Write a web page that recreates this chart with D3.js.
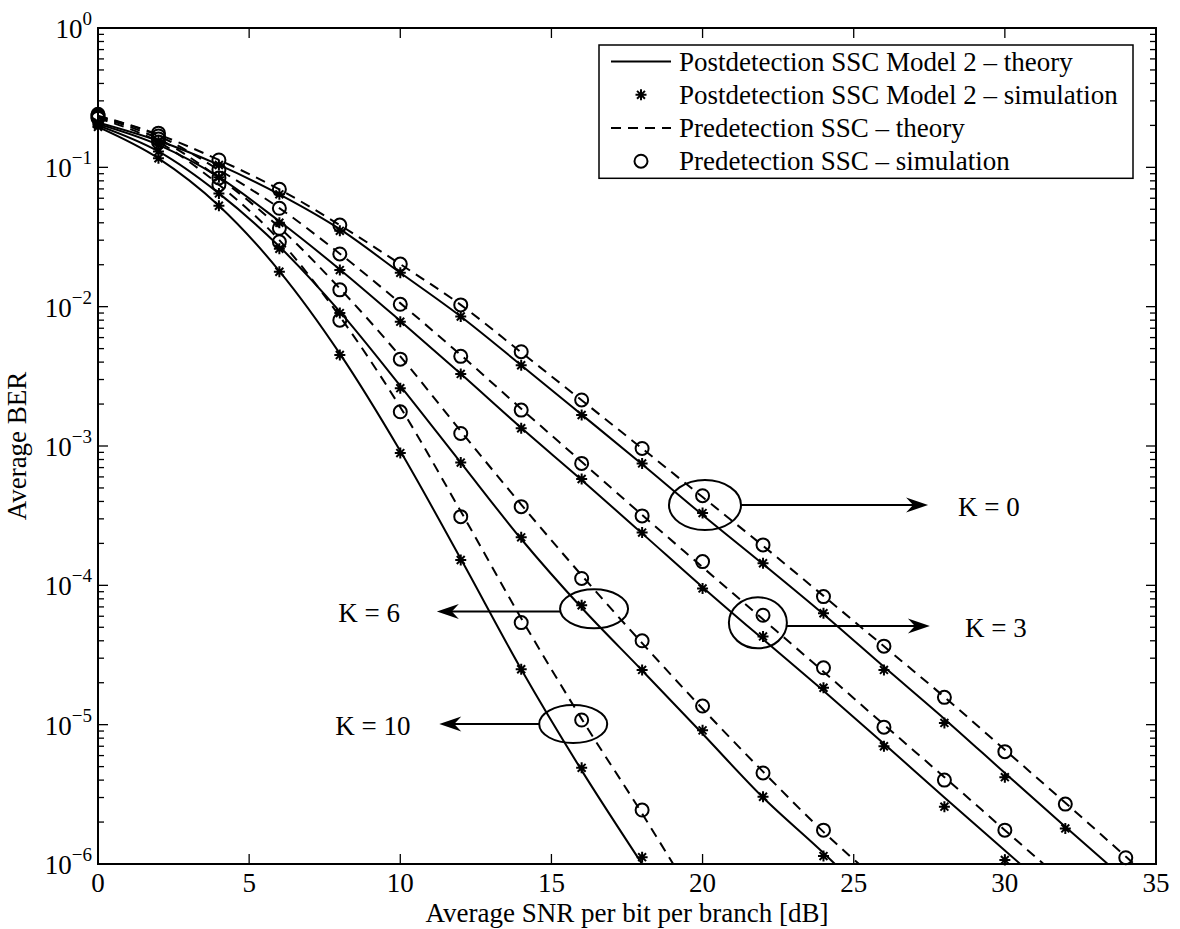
<!DOCTYPE html>
<html>
<head>
<meta charset="utf-8">
<script src="https://cdn.jsdelivr.net/npm/d3@7"></script>
<style>
  body { margin: 0; background: #fff; }
  text { font-family: "Liberation Serif", "Times New Roman", serif; fill: #000; }
</style>
</head>
<body>
<div id="chart"></div>
<script>
// SNR grid of the simulation points and of the theory curves
const snr = [0, 2, 4, 6, 8, 10, 12, 14, 16, 18, 20, 22, 24, 26, 28, 30, 32, 34];
const snrTheory = [0, 2, 4, 6, 8, 10, 12, 14, 16, 18, 20, 22, 24, 26, 28, 30, 32, 34, 36];

// K = 0
const postTheoryK0 = [0.21, 0.155, 0.104, 0.064, 0.036, 0.0175, 0.0085, 0.0038, 0.00168, 0.00074, 0.00032, 0.000142, 6.2e-5, 2.6e-5, 1.1e-5, 4.5e-6, 1.85e-6, 7.7e-7];
const postSimK0 = [0.21, 0.155, 0.104, 0.064, 0.035, 0.0175, 0.0085, 0.0038, 0.00167, 0.00075, 0.00033, 0.000144, 6.3e-5, 2.47e-5, 1.03e-5, 4.2e-6, 1.8e-6];
const preTheoryK0 = [0.235, 0.172, 0.113, 0.0695, 0.0385, 0.0202, 0.0103, 0.0047, 0.00213, 0.00096, 0.00043, 0.000192, 8.4e-5, 3.65e-5, 1.58e-5, 6.6e-6, 2.75e-6, 1.13e-6, 4.6e-7];
const preSimK0 = [0.24, 0.176, 0.113, 0.0695, 0.0385, 0.0202, 0.0103, 0.00475, 0.00214, 0.00096, 0.00044, 0.000195, 8.3e-5, 3.66e-5, 1.57e-5, 6.4e-6, 2.69e-6, 1.11e-6];

// K = 3
const postTheoryK3 = [0.205, 0.145, 0.085, 0.041, 0.0185, 0.0079, 0.0033, 0.00135, 0.00057, 0.000236, 9.7e-5, 4.1e-5, 1.75e-5, 7.3e-6, 3.0e-6, 1.25e-6, 5.2e-7];
const postSimK3 = [0.205, 0.145, 0.085, 0.040, 0.0183, 0.0078, 0.00329, 0.00134, 0.00058, 0.000239, 9.5e-5, 4.3e-5, 1.84e-5, 7.0e-6, 2.58e-6, 1.07e-6];
const preTheoryK3 = [0.232, 0.168, 0.096, 0.051, 0.024, 0.0106, 0.0045, 0.00185, 0.00077, 0.00032, 0.000135, 5.7e-5, 2.4e-5, 1.0e-5, 4.2e-6, 1.75e-6, 7.3e-7];
const preSimK3 = [0.235, 0.168, 0.096, 0.0508, 0.0239, 0.0104, 0.0044, 0.00181, 0.00075, 0.000315, 0.000148, 6.1e-5, 2.56e-5, 9.6e-6, 4.0e-6, 1.75e-6];

// K = 6
const postTheoryK6 = [0.2, 0.13, 0.065, 0.027, 0.0092, 0.0027, 0.00076, 0.000215, 6.9e-5, 2.45e-5, 8.6e-6, 3.0e-6, 1.2e-6, 4.5e-7];
const postSimK6 = [0.2, 0.13, 0.065, 0.026, 0.0090, 0.0026, 0.00076, 0.000221, 7.2e-5, 2.47e-5, 9.1e-6, 3.04e-6, 1.14e-6];
const preTheoryK6 = [0.23, 0.16, 0.084, 0.037, 0.0135, 0.0044, 0.00128, 0.00038, 0.000118, 3.85e-5, 1.3e-5, 4.6e-6, 1.7e-6, 7e-7];
const preSimK6 = [0.23, 0.16, 0.084, 0.0365, 0.0132, 0.0042, 0.00123, 0.000367, 0.000112, 4.0e-5, 1.36e-5, 4.5e-6, 1.75e-6];

// K = 10
const postTheoryK10 = [0.195, 0.116, 0.053, 0.018, 0.0046, 0.00092, 0.000155, 2.5e-5, 4.7e-6, 1.0e-6, 2.2e-7];
const postSimK10 = [0.195, 0.116, 0.053, 0.0178, 0.0045, 0.00089, 0.000152, 2.5e-5, 4.9e-6, 1.12e-6];
const preTheoryK10 = [0.225, 0.152, 0.075, 0.030, 0.0085, 0.0019, 0.00034, 5.8e-5, 1.1e-5, 2.3e-6, 4.5e-7];
const preSimK10 = [0.225, 0.152, 0.075, 0.0292, 0.0080, 0.00176, 0.000311, 5.4e-5, 1.08e-5, 2.44e-6];

const xTicks = [0, 5, 10, 15, 20, 25, 30, 35];
const yTickExps = [0, -1, -2, -3, -4, -5, -6];

const legendLabels = [
  "Postdetection SSC Model 2 \u2013 theory",
  "Postdetection SSC Model 2 \u2013 simulation",
  "Predetection SSC \u2013 theory",
  "Predetection SSC \u2013 simulation"
];

// ellipse / arrow / label annotations, positions in data units
const kLabels = ["K = 0", "K = 3", "K = 6", "K = 10"];
const ringSnr = [20.08, 21.83, 16.41, 15.72];
const ringBer = [3.77e-4, 5.38e-5, 6.78e-5, 1.01e-5];
const arrowBer = [3.77e-4, 5.1e-5, 6.5e-5, 1.01e-5];
const arrowEndSnr = [27.46, 27.52, 11.21, 11.29];
const labelSnr = [28.45, 28.68, 9.99, 10.34];

const width = 1180, height = 929;
const margin = { top: 28, left: 98, right: 24, bottom: 65 };
const fs = 27;

const svg = d3.select("#chart").append("svg")
  .attr("width", width)
  .attr("height", height);

const x = d3.scaleLinear().domain([0, 35]).range([margin.left, width - margin.right]);
const y = d3.scaleLog().domain([1e-6, 1]).range([height - margin.bottom, margin.top]);

const x0 = x.range()[0], x1 = x.range()[1];
const y0 = y.range()[0], y1 = y.range()[1];

svg.append("rect").attr("width", width).attr("height", height).attr("fill", "#fff");

svg.append("clipPath").attr("id", "plotclip")
  .append("rect")
  .attr("x", x0).attr("y", y1)
  .attr("width", x1 - x0).attr("height", y0 - y1);

// ticks (inside, on all four sides)
const ticks = svg.append("g").attr("stroke", "#000").attr("stroke-width", 1.3);
xTicks.forEach(t => {
  if (t === 0 || t === 35) return;
  ticks.append("line").attr("x1", x(t)).attr("x2", x(t)).attr("y1", y0).attr("y2", y0 - 10);
  ticks.append("line").attr("x1", x(t)).attr("x2", x(t)).attr("y1", y1).attr("y2", y1 + 10);
});
for (let e = -6; e < 0; e++) {
  for (let m = 1; m < 10; m++) {
    const v = m * Math.pow(10, e);
    const len = m === 1 ? 10 : 6;
    if (m === 1 && e === -6) continue;
    ticks.append("line").attr("x1", x0).attr("x2", x0 + len).attr("y1", y(v)).attr("y2", y(v));
    ticks.append("line").attr("x1", x1).attr("x2", x1 - len).attr("y1", y(v)).attr("y2", y(v));
  }
}

// x tick labels
svg.append("g").selectAll("text").data(xTicks).join("text")
  .attr("x", d => x(d))
  .attr("y", y0 + 28)
  .attr("text-anchor", "middle")
  .style("font-size", fs + "px")
  .text(d => d);

// y tick labels 10^n
const yl = svg.append("g").selectAll("text").data(yTickExps).join("text")
  .attr("x", x0 - 6)
  .attr("y", d => y(Math.pow(10, d)) + 10)
  .attr("text-anchor", "end")
  .style("font-size", fs + "px");
yl.append("tspan").text("10");
yl.append("tspan")
  .attr("dy", -13)
  .style("font-size", "19px")
  .text(d => d === 0 ? "0" : "\u2212" + Math.abs(d));

// axis titles
svg.append("text")
  .attr("x", (x0 + x1) / 2)
  .attr("y", 922)
  .attr("text-anchor", "middle")
  .style("font-size", fs + "px")
  .text("Average SNR per bit per branch [dB]");

svg.append("text")
  .attr("transform", `translate(26, ${(y0 + y1) / 2}) rotate(-90)`)
  .attr("text-anchor", "middle")
  .style("font-size", fs + "px")
  .text("Average BER");

// curves
const plot = svg.append("g").attr("clip-path", "url(#plotclip)");

const line = d3.line()
  .x((d, i) => x(snrTheory[i]))
  .y(d => y(d))
  .curve(d3.curveMonotoneX);

const postTheory = [postTheoryK0, postTheoryK3, postTheoryK6, postTheoryK10];
const preTheory = [preTheoryK0, preTheoryK3, preTheoryK6, preTheoryK10];
const postSim = [postSimK0, postSimK3, postSimK6, postSimK10];
const preSim = [preSimK0, preSimK3, preSimK6, preSimK10];

postTheory.forEach(s => {
  plot.append("path").datum(s)
    .attr("d", line)
    .attr("fill", "none")
    .attr("stroke", "#000")
    .attr("stroke-width", 2);
});
preTheory.forEach(s => {
  plot.append("path").datum(s)
    .attr("d", line)
    .attr("fill", "none")
    .attr("stroke", "#000")
    .attr("stroke-width", 2)
    .attr("stroke-dasharray", "10,7");
});

function starPath(cx, cy, r) {
  const d = r * 0.72;
  return `M${cx - r},${cy}L${cx + r},${cy}M${cx},${cy - r}L${cx},${cy + r}` +
    `M${cx - d},${cy - d}L${cx + d},${cy + d}M${cx - d},${cy + d}L${cx + d},${cy - d}`;
}

const marks = svg.append("g");
preSim.forEach(s => {
  marks.append("g").selectAll("circle").data(s).join("circle")
    .attr("cx", (d, i) => x(snr[i]))
    .attr("cy", d => y(d))
    .attr("r", 6.5)
    .attr("fill", "none")
    .attr("stroke", "#000")
    .attr("stroke-width", 2);
});
postSim.forEach(s => {
  marks.append("g").selectAll("path").data(s).join("path")
    .attr("d", (d, i) => starPath(x(snr[i]), y(d), 5.5))
    .attr("stroke", "#000")
    .attr("stroke-width", 2);
});

// annotations
const ann = svg.append("g");
const ringR = [[36, 25], [29, 25.5], [34, 19.5], [34, 19]];
kLabels.forEach((lab, i) => {
  const cx = x(ringSnr[i]), cy = y(ringBer[i]);
  const ay = y(arrowBer[i]);
  const right = arrowEndSnr[i] > ringSnr[i];
  const rx = ringR[i][0], ry = ringR[i][1];
  const dy = ay - cy;
  const dx = rx * Math.sqrt(Math.max(0, 1 - (dy * dy) / (ry * ry)));
  const startX = right ? cx + dx : cx - dx;
  const endX = x(arrowEndSnr[i]);
  ann.append("ellipse")
    .attr("cx", cx).attr("cy", cy)
    .attr("rx", rx).attr("ry", ry)
    .attr("fill", "none").attr("stroke", "#000").attr("stroke-width", 2);
  const dir = right ? 1 : -1;
  ann.append("line")
    .attr("x1", startX).attr("x2", endX - dir * 14)
    .attr("y1", ay).attr("y2", ay)
    .attr("stroke", "#000").attr("stroke-width", 2);
  ann.append("path")
    .attr("d", `M${endX},${ay}L${endX - dir * 22},${ay - 7.5}L${endX - dir * 15},${ay}L${endX - dir * 22},${ay + 7.5}Z`)
    .attr("fill", "#000");
  ann.append("text")
    .attr("x", x(labelSnr[i]))
    .attr("y", ay + 11)
    .attr("text-anchor", right ? "start" : "end")
    .style("font-size", fs + "px")
    .text(lab);
});

// legend
const lg = svg.append("g");
const lgX = 599, lgY = 45, lgW = 534, rowH = 33.2;
lg.append("rect")
  .attr("x", lgX).attr("y", lgY)
  .attr("width", lgW).attr("height", rowH * 4 + 0.5)
  .attr("fill", "#fff").attr("stroke", "#000").attr("stroke-width", 1.5);
legendLabels.forEach((t, i) => {
  const cy = lgY + rowH * (i + 0.5);
  const sx = lgX + 42;
  if (i === 0 || i === 2) {
    lg.append("line")
      .attr("x1", sx - 30).attr("x2", sx + 30)
      .attr("y1", cy).attr("y2", cy)
      .attr("stroke", "#000").attr("stroke-width", 2)
      .attr("stroke-dasharray", i === 2 ? "10,7" : null);
  } else if (i === 1) {
    lg.append("path").attr("d", starPath(sx, cy, 5.5)).attr("stroke", "#000").attr("stroke-width", 2);
  } else {
    lg.append("circle").attr("cx", sx).attr("cy", cy).attr("r", 6.5)
      .attr("fill", "none").attr("stroke", "#000").attr("stroke-width", 2);
  }
  lg.append("text")
    .attr("x", lgX + 80)
    .attr("y", cy + 9)
    .style("font-size", fs + "px")
    .text(t);
});

// axes box on top
svg.append("rect")
  .attr("x", x0).attr("y", y1)
  .attr("width", x1 - x0).attr("height", y0 - y1)
  .attr("fill", "none").attr("stroke", "#000").attr("stroke-width", 2);
</script>
</body>
</html>
